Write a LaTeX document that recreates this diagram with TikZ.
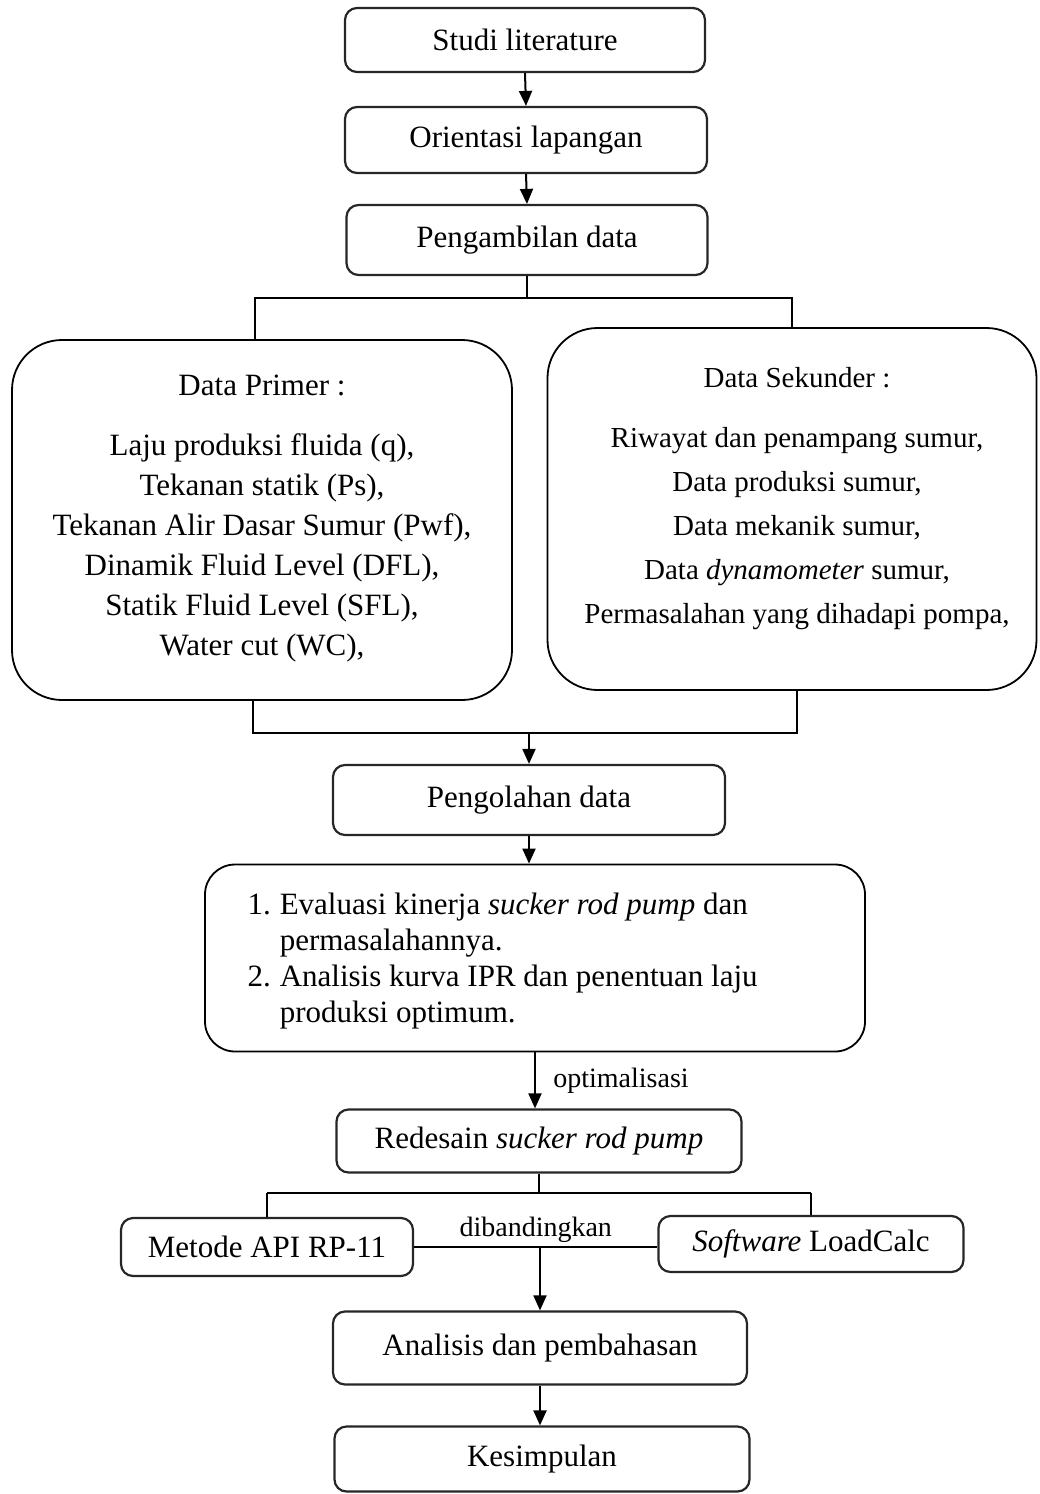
\documentclass[tikz,border=0pt]{standalone}
\usepackage{fontspec}
\setmainfont{Liberation Serif}
\usetikzlibrary{arrows.meta}
\begin{document}
\begin{tikzpicture}[x=1pt,y=-1pt,
  every node/.style={font=\fontsize{31}{37}\selectfont},
  sbox/.style={draw=black!85, line width=2.2pt, rounded corners=12pt, inner sep=0pt},
  bbox/.style={draw=black, line width=1.8pt, rounded corners=50pt, inner sep=0pt},
  ebox/.style={draw=black, line width=1.8pt, rounded corners=30pt, inner sep=0pt},
  ln/.style={draw=black, line width=2pt},
  arr/.style={ln, -{Triangle[length=15pt,width=13pt]}},
  lbl/.style={font=\fontsize{28}{32}\selectfont}]
\useasboundingbox (0,0) rectangle (1039,1494);

% top boxes
\node[sbox, minimum width=360pt, minimum height=64pt] (s1) at (525,40) {Studi literature};
\node[sbox, minimum width=362pt, minimum height=66pt] (s2) at (526,140) {Orientasi lapangan};
\node[sbox, minimum width=361pt, minimum height=70pt] (s3) at (527,240) {Pengambilan data};

% data boxes
\node[bbox, minimum width=500pt, minimum height=360pt] (prim) at (262,520) {};
\node[align=center, font=\fontsize{31}{40}\selectfont] (primt) at (262,519)
  {Data Primer :\\[20pt]
   Laju produksi fluida (q),\\
   Tekanan statik (Ps),\\
   Tekanan Alir Dasar Sumur (Pwf),\\
   Dinamik Fluid Level (DFL),\\
   Statik Fluid Level (SFL),\\
   Water cut (WC),};
\node[bbox, minimum width=489pt, minimum height=362pt] (sek) at (792,509) {};
\node[align=center, font=\fontsize{29}{44}\selectfont] (sekt) at (797,499)
  {Data Sekunder :\\[16pt]
   Riwayat dan penampang sumur,\\
   Data produksi sumur,\\
   Data mekanik sumur,\\
   Data \textit{dynamometer} sumur,\\
   Permasalahan yang dihadapi pompa,};

\node[sbox, minimum width=392pt, minimum height=70pt] (peng) at (529,800) {Pengolahan data};

\node[ebox, minimum width=660pt, minimum height=187pt] (eval) at (535,958) {};
\node[anchor=west, font=\fontsize{31}{36}\selectfont] (evalt) at (244,961)
  {\begin{tabular}{@{}r@{\hspace{9pt}}l@{}}
   1. & Evaluasi kinerja \textit{sucker rod pump} dan\\
      & permasalahannya.\\
   2. & Analisis kurva IPR dan penentuan laju\\
      & produksi optimum.
   \end{tabular}};

\node[sbox, minimum width=405pt, minimum height=63pt] (red) at (539,1141) {Redesain \textit{sucker rod pump}};
\node[sbox, minimum width=292pt, minimum height=58pt] (met) at (267,1247) {Metode API RP-11};
\node[sbox, minimum width=305pt, minimum height=56pt] (soft) at (811,1244) {\textit{Software} LoadCalc};
\node[sbox, minimum width=414pt, minimum height=73pt] (ana) at (540,1348) {Analisis dan pembahasan};
\node[sbox, minimum width=415pt, minimum height=65pt] (kes) at (542,1459) {Kesimpulan};

% coordinates
\coordinate (sp1) at (522,298);
\coordinate (jn) at (532,733);
\coordinate (sp2) at (538,1193);

% connectors
\draw[arr] (s1.south) -- (s2.north);
\draw[arr] (s2.south) -- (s3.north);
\draw[ln] (s3.south) -- (s3.south |- sp1);
\draw[ln] ([xshift=-7pt]prim.north) -- ([xshift=-7pt]prim.north |- sp1) -- (sek.north |- sp1) -- (sek.north);
\draw[ln] ([xshift=-9pt]prim.south) -- ([xshift=-9pt]prim.south |- jn) -- ([xshift=5pt]sek.south |- jn) -- ([xshift=5pt]sek.south);
\draw[arr] (peng.north |- jn) -- (peng.north);
\draw[arr] (peng.south) -- (peng.south |- eval.north);
\draw[arr] (eval.south) -- (eval.south |- red.north)
  node[lbl, midway, right=14pt] (opt) {optimalisasi};
\draw[ln] (red.south) -- (red.south |- sp2);
\draw[ln] (met.north |- sp2) -- (soft.north |- sp2);
\draw[ln] (met.north |- sp2) -- (met.north);
\draw[ln] (soft.north |- sp2) -- (soft.north);
\draw[ln] (met.east) -- (met.east -| soft.west)
  node[lbl, midway, above=0pt] (dib) {dibandingkan};
\draw[arr] (met.east -| ana.north) -- (ana.north);
\draw[arr] (ana.south) -- (ana.south |- kes.north);
\end{tikzpicture}
\end{document}
